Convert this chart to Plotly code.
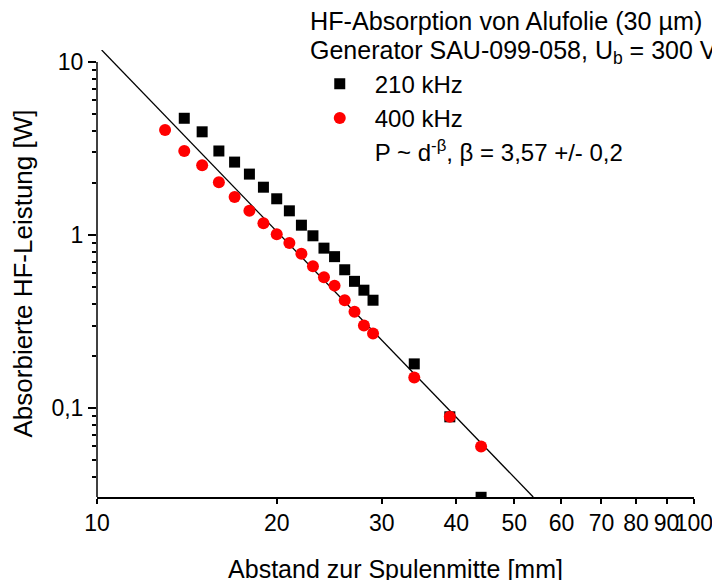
import plotly.graph_objects as go

# --- data ---
x_210 = [14, 15, 16, 17, 18, 19, 20, 21, 22, 23, 24, 25, 26, 27, 28, 29, 34, 39, 44]
p_210 = [4.73, 3.95, 3.06, 2.64, 2.25, 1.89, 1.62, 1.38, 1.14, 0.99, 0.84, 0.75,
         0.63, 0.54, 0.48, 0.42, 0.18, 0.089, 0.0305]

x_400 = [13, 14, 15, 16, 17, 18, 19, 20, 21, 22, 23, 24, 25, 26, 27, 28, 29, 34, 39, 44]
p_400 = [4.05, 3.06, 2.53, 2.02, 1.66, 1.38, 1.17, 1.01, 0.90, 0.78, 0.66, 0.57,
         0.51, 0.42, 0.36, 0.30, 0.27, 0.15, 0.089, 0.060]

# fitted power law line (end points)
fit_x = [10.18, 53.8]
fit_y = [11.73, 0.0306]

x_ticks = [10, 20, 30, 40, 50, 60, 70, 80, 90, 100]
x_ticktext = ["10", "20", "30", "40", "50", "60", "70", "80", "90", "100"]
y_ticks = [0.1, 1, 10]
y_ticktext = ["0,1", "1", "10"]
y_minor = [0.04, 0.05, 0.06, 0.07, 0.08, 0.09,
           0.2, 0.3, 0.4, 0.5, 0.6, 0.7, 0.8, 0.9,
           2, 3, 4, 5, 6, 7, 8, 9]
y_axis_bottom = 0.0306
y_axis_top = 10

title_1 = "HF-Absorption von Alufolie (30 µm)"
title_2 = "Generator SAU-099-058, U<sub>b</sub> = 300 V"
fit_label = "P ~ d<sup>-β</sup>, β = 3,57 +/- 0,2"

FONT = "Liberation Sans, Arial, sans-serif"

fig = go.Figure()
fig.add_trace(go.Scatter(
    x=fit_x, y=fit_y, mode="lines", line=dict(color="black", width=1.3),
    showlegend=False, hoverinfo="skip"))
fig.add_trace(go.Scatter(
    x=x_210, y=p_210, mode="markers", name="210 kHz", legendgroup="a",
    marker=dict(symbol="square", size=11, color="black")))
fig.add_trace(go.Scatter(
    x=x_400, y=p_400, mode="markers", name="400 kHz", legendgroup="b",
    marker=dict(symbol="circle", size=12, color="#ff0000")))
fig.add_trace(go.Scatter(
    x=[None], y=[None], mode="markers", name=fit_label, legendgroup="c",
    marker=dict(size=1, color="rgba(0,0,0,0)")))

fig.update_layout(
    width=720, height=580,
    margin=dict(l=89, r=34, t=42, b=91, autoexpand=False),
    paper_bgcolor="white", plot_bgcolor="white",
    font=dict(family=FONT, size=23, color="black"),
    showlegend=True,
    legend=dict(x=0.348, y=0.974, xanchor="left", yanchor="top",
                bgcolor="rgba(0,0,0,0)", font=dict(size=24),
                itemwidth=60, tracegroupgap=0),
    xaxis=dict(type="log", range=[0.9999, 2.0002], automargin=False,
               tickvals=x_ticks, ticktext=x_ticktext, tickangle=0,
               showline=True, linecolor="black", linewidth=1.5,
               ticks="outside", ticklen=5, tickwidth=1.5, tickcolor="black",
               showgrid=False, zeroline=False,
               title=dict(text="Abstand zur Spulenmitte [mm]", standoff=25,
                          font=dict(size=25))),
    yaxis=dict(type="log", range=[-1.514, 1.0694], automargin=False,
               tickvals=y_ticks, ticktext=y_ticktext,
               showline=False,
               ticks="outside", ticklen=8, tickwidth=1.5, tickcolor="black",
               minor=dict(tickvals=y_minor, ticks="outside", ticklen=4,
                          tickwidth=1.5, tickcolor="black", showgrid=False),
               showgrid=False, zeroline=False,
               title=dict(text="Absorbierte HF-Leistung [W]", standoff=14,
                          font=dict(size=26))),
    shapes=[
        dict(type="line", xref="paper", yref="y", x0=0, x1=0,
             y0=y_axis_bottom, y1=y_axis_top,
             line=dict(color="black", width=1.5)),
    ],
    annotations=[
        dict(text=title_1, xref="paper", yref="paper", x=0.3535, y=1.0647,
             xanchor="left", yanchor="middle", showarrow=False,
             font=dict(size=25.2)),
        dict(text=title_2, xref="paper", yref="paper", x=0.3535, y=0.9964,
             xanchor="left", yanchor="middle", showarrow=False,
             font=dict(size=25)),
    ],
)

fig.write_html("out.html")
